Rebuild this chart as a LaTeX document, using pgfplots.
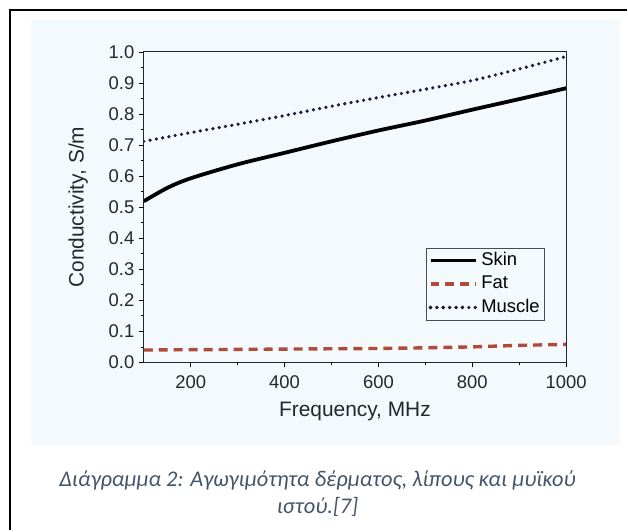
\documentclass[border=0pt]{standalone}
\usepackage{fontspec}
\setmainfont{Liberation Sans}
\newfontfamily\capfont{Carlito}
\usepackage{pgfplots}
\pgfplotsset{compat=1.18}
\definecolor{panel}{HTML}{F3F9FD}
\definecolor{capcol}{HTML}{44546A}
\definecolor{fatcol}{HTML}{B04A3A}
\definecolor{muscol}{HTML}{1B1B3A}
\begin{document}
\begin{tikzpicture}
\fill[white] (0,0) rectangle (628bp,-531bp);
\fill[panel] (31bp,-20bp) rectangle (621bp,-446bp);
\draw[line width=2bp,black] (10bp,-531bp) -- (10bp,-10bp) -- (628bp,-10bp);
\begin{axis}[
  at={(144bp,-363bp)}, anchor=south west,
  scale only axis, width=423bp, height=311bp,
  xmin=100, xmax=1000, ymin=0, ymax=1,
  xtick={200,400,600,800,1000},
  minor x tick num=1,
  ytick={0,0.1,...,1.0},
  minor y tick num=1,
  tick align=outside,
  xtick pos=bottom, ytick pos=left,
  major tick length=5bp, minor tick length=3bp,
  every tick/.style={black, line width=0.8bp},
  axis line style={line width=0.9bp, black!85},
  /pgf/number format/assume math mode=true,
  tick label style={font=\fontsize{18.5}{21}\selectfont, text=black!85},
  yticklabel style={/pgf/number format/fixed, /pgf/number format/fixed zerofill, /pgf/number format/precision=1, xshift=-1bp},
  xticklabel style={/pgf/number format/set thousands separator={}, yshift=-5bp},
  xlabel={Frequency, MHz},
  ylabel={Conductivity, S/m},
  label style={font=\fontsize{21}{24}\selectfont, text=black!85},
  xlabel style={at={(axis description cs:0.5,-0.158)}, anchor=center},
  ylabel style={at={(axis description cs:-0.155,0.5)}, anchor=center},
  legend style={at={(0.669,0.37)}, anchor=north west, draw=black!70, line width=0.6bp, fill=panel,
    font=\fontsize{18.5}{21}\selectfont, row sep=0bp, inner xsep=2bp, inner ysep=1bp,
    nodes={inner sep=3bp, text height=13.5bp, text depth=4bp}},
  legend cell align=left,
  legend image code/.code={\draw[#1] (0bp,0bp) -- (38bp,0bp); \path (0bp,0bp) -- (46bp,0bp);},
]
\addplot[black, line width=3.8bp, smooth] coordinates {
(100,0.519) (150,0.562) (200,0.593) (300,0.638) (400,0.675) (500,0.712) (600,0.747) (700,0.779) (800,0.814) (900,0.848) (1000,0.883)};
\addlegendentry{Skin}
\addplot[fatcol, line width=3.4bp, dash pattern=on 9bp off 6bp] coordinates {
(100,0.040) (200,0.041) (300,0.042) (400,0.043) (500,0.044) (600,0.045) (700,0.047) (800,0.050) (900,0.055) (1000,0.058)};
\addlegendentry{Fat}
\addplot[muscol, line width=3.6bp, line cap=round, dash pattern=on 0bp off 6.4bp, smooth] coordinates {
(100,0.712) (200,0.740) (300,0.767) (400,0.795) (500,0.825) (600,0.853) (700,0.880) (800,0.908) (900,0.945) (1000,0.985)};
\addlegendentry{Muscle}
\end{axis}
\node[capcol, font=\capfont\itshape\fontsize{22.5}{27}\selectfont, align=center] at (318bp,-494bp)
  {Διάγραμμα 2: Αγωγιμότητα δέρματος, λίπους και μυϊκού\\ ιστού.[7]};
\end{tikzpicture}
\end{document}
